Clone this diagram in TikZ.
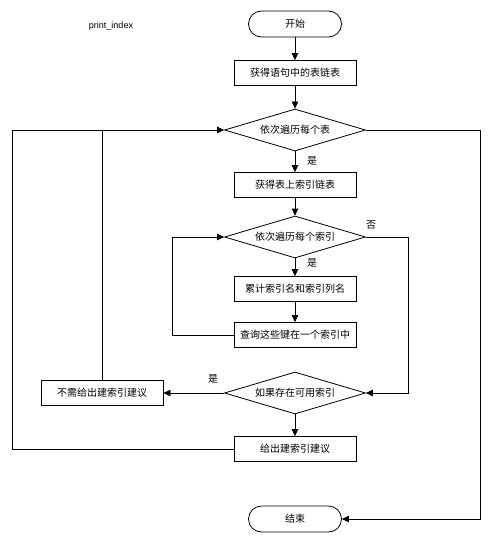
\documentclass[tikz,border=0pt]{standalone}
\usepackage{fontspec}
\setmainfont{Liberation Sans}
\newfontfamily\cjk{Noto Sans CJK SC}
\usetikzlibrary{shapes.geometric,arrows.meta}

\tikzset{
    term/.style={draw, rounded corners=13pt, minimum width=93pt, minimum height=26pt, inner sep=0pt, font=\cjk\fontsize{10}{12}\selectfont},
    proc/.style={draw, minimum width=122pt, minimum height=25pt, inner sep=0pt, font=\cjk\fontsize{10}{12}\selectfont},
    cond/.style={draw, diamond, aspect=3.3, minimum width=141pt, minimum height=42pt, inner sep=0pt, font=\cjk\fontsize{10}{12}\selectfont},
    lbl/.style={inner sep=0pt, font=\cjk\fontsize{10}{12}\selectfont},
    arr/.style={-{Triangle[length=7pt,width=6.5pt]}},
}

\begin{document}
\begin{tikzpicture}[x=1pt, y=-1pt, line width=0.8pt]
\useasboundingbox (0,0) rectangle (492,543);
%%   kw   (name)   (x, y)   {text}
    \node[inner sep=0pt, font=\fontsize{9}{11}\selectfont] (title) at (111, 26) {print\_index};
    \node[term] (start) at (295, 24)  {开始};
    \node[proc] (tbls)  at (295, 73)  {获得语句中的表链表};
    \node[cond] (eachtbl) at (295, 130) {依次遍历每个表};
    \node[proc] (idxs)  at (295, 185) {获得表上索引链表};
    \node[cond] (eachidx) at (295, 237) {依次遍历每个索引};
    \node[proc] (cols)  at (295, 289) {累计索引名和索引列名};
    \node[proc] (look)  at (295, 335) {查询这些键在一个索引中};
    \node[cond] (found) at (295, 393) {如果存在可用索引};
    \node[proc] (noadv) at (102, 393) {不需给出建索引建议};
    \node[proc] (adv)   at (295, 449) {给出建索引建议};
    \node[term] (stop)  at (295, 519) {结束};

    \node[lbl] (yes1) at (312, 161) {是};
    \node[lbl] (yes2) at (312, 263) {是};
    \node[lbl] (no2)  at (371, 225) {否};
    \node[lbl] (yes3) at (213, 379) {是};

    \coordinate (lp1) at (12, 130);
    \coordinate (lp2) at (172, 237);
    \coordinate (rp2) at (408, 237);
    \coordinate (rp1) at (480, 130);

    \draw[arr] (start) -- (tbls);
    \draw[arr] (tbls) -- (eachtbl);
    \draw[arr] (eachtbl) -- (idxs);
    \draw[arr] (idxs) -- (eachidx);
    \draw[arr] (eachidx) -- (cols);
    \draw[arr] (cols) -- (look);
    \draw[arr] (look.west) -| (lp2) -- (eachidx.west);
    \draw[arr] (eachidx.east) -- (rp2) |- (found.east);
    \draw[arr] (found.west) -- (noadv.east);
    \draw[arr] (found) -- (adv);
    \draw (noadv.north) -- (noadv.north |- eachtbl.west);
    \draw[arr] (adv.west) -| (lp1) -- (eachtbl.west);
    \draw[arr] (eachtbl.east) -- (rp1) |- (stop.east);
\end{tikzpicture}
\end{document}
